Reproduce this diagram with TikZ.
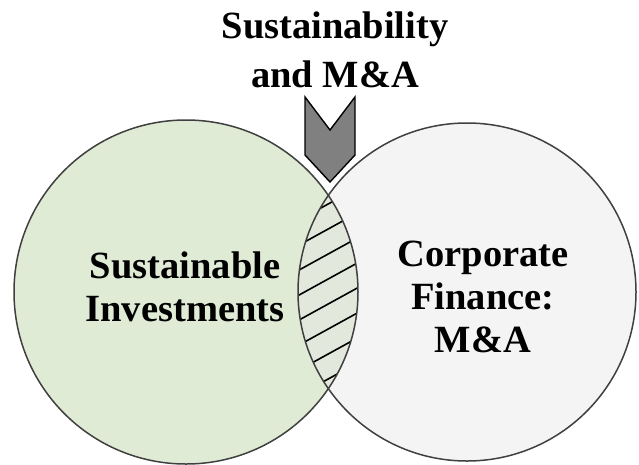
\documentclass[tikz,border=0pt]{standalone}
\usepackage{fontspec}
\setmainfont{Liberation Serif}
\definecolor{leftset}{RGB}{223,235,213}
\definecolor{rightset}{RGB}{244,244,244}
\definecolor{overlap}{RGB}{226,232,220}
\begin{document}
\begin{tikzpicture}[x=1pt,y=-1pt,
  setcircle/.style={draw=black!75,line width=1.5pt},
  label/.style={font=\bfseries\fontsize{38.5}{43}\selectfont,align=center,text=black}]
\useasboundingbox (0,0) rectangle (639,464);
% the two sets
\fill[leftset] (186,292) circle (172);
\fill[rightset] (467,292) circle (169);
% hatched overlap
\begin{scope}
  \clip (186,292) circle (172);
  \clip (467,292) circle (169);
  \fill[overlap] (280,150) rectangle (380,440);
  \foreach \k in {0,...,14} {
    \draw[line width=1.6pt] (290,{150+25*\k}) -- (370,{150+25*\k-44});
  }
\end{scope}
\draw[setcircle] (186,292) circle (172);
\draw[setcircle] (467,292) circle (169);
% chevron pointing into the overlap
\node[coordinate] (c1) at (305,97) {};
\node[coordinate] (c2) at (330,130) {};
\node[coordinate] (c3) at (355,97) {};
\node[coordinate] (c4) at (355,155) {};
\node[coordinate] (c5) at (330,182) {};
\node[coordinate] (c6) at (305,155) {};
\draw[fill=black!50,line width=1.4pt,line join=miter] (c1) -- (c2) -- (c3) -- (c4) -- (c5) -- (c6) -- cycle;
% labels
\node[label,font=\bfseries\fontsize{38.5}{49}\selectfont] (top) at (335,50) {Sustainability\\and M\&A};
\node[label] (left) at (185,287) {Sustainable\\Investments};
\node[label] (right) at (483,297) {Corporate\\Finance:\\M\&A};
\end{tikzpicture}
\end{document}
